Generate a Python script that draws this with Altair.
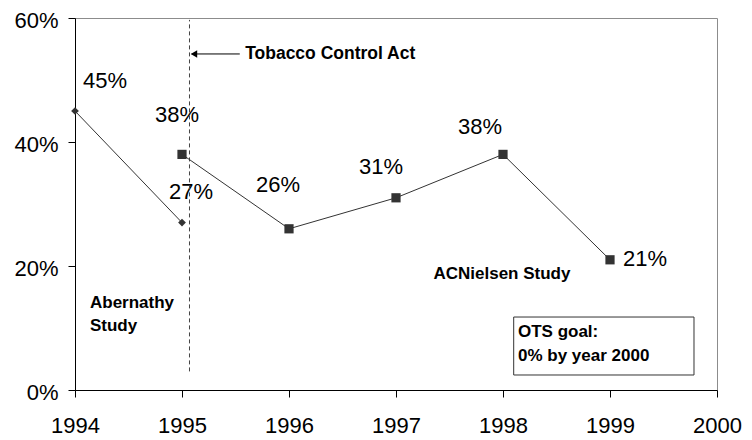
import altair as alt
import pandas as pd

# ---- data ----
years_aber = [1994, 1995]
vals_aber = [0.45, 0.27]
years_nielsen = [1995, 1996, 1997, 1998, 1999]
vals_nielsen = [0.38, 0.26, 0.31, 0.38, 0.21]

# label offsets (pixels) for each data label
label_dx_aber = [30, 9]
label_dy_aber = [-30, -31]
label_dx_nielsen = [-5, -11, -15, -23, 35]
label_dy_nielsen = [-39, -44, -31, -27, -1]

x_ticks = [1994, 1995, 1996, 1997, 1998, 1999, 2000]
y_ticks = [0, 0.2, 0.4, 0.6]

act_year = 1995.07

FONT = "Liberation Sans"
DARK = "#333333"

aber = pd.DataFrame({"year": years_aber, "value": vals_aber})
niel = pd.DataFrame({"year": years_nielsen, "value": vals_nielsen})

xs = alt.Scale(domain=[1994, 2000], nice=False, zero=False)
ys = alt.Scale(domain=[0, 0.6], nice=False)

X = alt.X("year:Q", scale=xs, axis=alt.Axis(values=x_ticks, format="d", title=None))
Y = alt.Y("value:Q", scale=ys, axis=alt.Axis(values=y_ticks, format=".0%", title=None))

layers = []

# series lines + markers
layers.append(alt.Chart(aber).mark_line(color=DARK, strokeWidth=1).encode(x=X, y=Y))
layers.append(alt.Chart(aber).mark_point(shape="diamond", filled=True, size=60,
                                         color=DARK, opacity=1).encode(x=X, y=Y))
layers.append(alt.Chart(niel).mark_line(color=DARK, strokeWidth=1).encode(x=X, y=Y))
layers.append(alt.Chart(niel).mark_point(shape="square", filled=True, size=85,
                                         color=DARK, opacity=1).encode(x=X, y=Y))

# data labels
def add_labels(df, dxs, dys):
    for i in range(len(df)):
        row = df.iloc[[i]].copy()
        row["label"] = [f"{round(v * 100)}%" for v in row["value"]]
        layers.append(
            alt.Chart(row).mark_text(font=FONT, fontSize=22, color="black",
                                     dx=dxs[i], dy=dys[i], baseline="middle",
                                     align="center")
            .encode(x=X, y=Y, text="label:N")
        )

add_labels(aber, label_dx_aber, label_dy_aber)
add_labels(niel, label_dx_nielsen, label_dy_nielsen)

base = alt.Chart(pd.DataFrame({"a": [0]}))

# Tobacco Control Act dashed line
layers.append(base.mark_rule(color="#444444", strokeWidth=1, strokeDash=[4, 3]).encode(
    x=alt.datum(act_year, scale=xs), y=alt.datum(0.03, scale=ys), y2=alt.datum(0.597)))

# arrow
layers.append(base.mark_rule(color="black", strokeWidth=1).encode(
    x=alt.datum(1995.54, scale=xs), x2=alt.datum(1995.09), y=alt.datum(0.542, scale=ys)))
layers.append(base.mark_point(shape="triangle-left", filled=True, size=55,
                              color="black", opacity=1).encode(
    x=alt.datum(1995.112, scale=xs), y=alt.datum(0.542, scale=ys)))

# annotation texts
def note(text, x, y, align="left", size=17):
    layers.append(base.mark_text(text=text, font=FONT, fontSize=size, fontWeight="bold",
                                 color="black", align=align, baseline="middle").encode(
        x=alt.datum(x, scale=xs), y=alt.datum(y, scale=ys)))

note("Tobacco Control Act", 1995.59, 0.542, size=17.5)
note("Abernathy", 1994.14, 0.140)
note("Study", 1994.14, 0.103)
note("ACNielsen Study", 1997.99, 0.187, align="center")

# OTS goal box
layers.append(base.mark_rect(fill="white", stroke=DARK, strokeWidth=1).encode(
    x=alt.datum(1998.10, scale=xs), x2=alt.datum(1999.785),
    y=alt.datum(0.1177, scale=ys), y2=alt.datum(0.0242)))
note("OTS goal:", 1998.14, 0.0935)
note("0% by year 2000", 1998.14, 0.0548)

chart = alt.layer(*layers).properties(
    width=642, height=372,
    autosize=alt.AutoSizeParams(type="none"),
    padding={"left": 67, "top": 10, "right": 27, "bottom": 48},
).configure_view(
    stroke="#8c8c8c", strokeWidth=1
).configure_axis(
    grid=False, domainColor="black", domainWidth=1, tickColor="black", tickSize=7,
    labelFont=FONT, labelFontSize=22, labelColor="black",
    labelFlush=False, labelOverlap=False,
).configure_axisX(labelPadding=18).configure_axisY(labelPadding=10, labelOffset=2)

chart.save("out.html", embed_options={"renderer": "svg", "actions": False})
